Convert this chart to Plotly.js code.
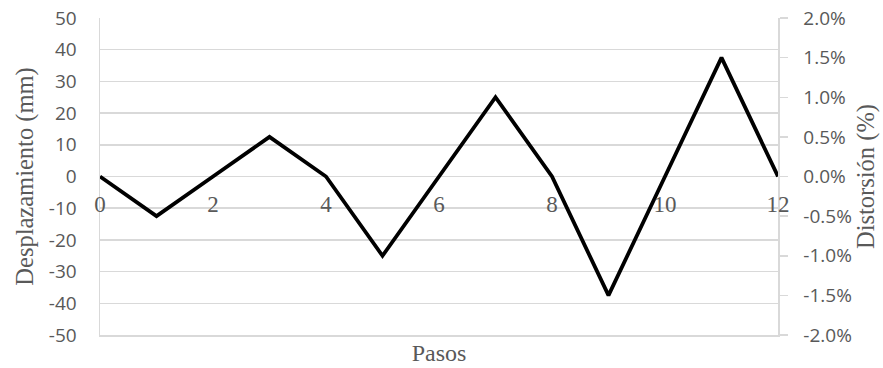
<!DOCTYPE html>
<html><head><meta charset="utf-8">
<script src="https://cdn.plot.ly/plotly-3.0.1.min.js"></script>
<style>html,body{margin:0;padding:0;background:#fff}#chart{width:883px;height:368px}</style>
</head><body><div id="chart"></div>
<script>
const pasos = [0,1,2,3,4,5,6,7,8,9,10,11,12];
const desplazamiento = [0,-12.5,0,12.5,0,-25,0,25,0,-37.5,0,37.5,0];
const distorsion = [0,-0.005,0,0.005,0,-0.01,0,0.01,0,-0.015,0,0.015,0];
const xTicks = [0,2,4,6,8,10,12];
const yTicks = [-50,-40,-30,-20,-10,0,10,20,30,40,50];
const yTickText = ['-50','-40','-30','-20','-10','0','10','20','30','40','50'];
const y2Ticks = [-0.02,-0.015,-0.01,-0.005,0,0.005,0.01,0.015,0.02];
const y2TickText = ['-2.0%','-1.5%','-1.0%','-0.5%','0.0%','0.5%','1.0%','1.5%','2.0%'];

const grey = '#595959';
const gridC = '#d9d9d9';
const serif = 'Liberation Serif';
const sans = 'Open Sans';

const traces = [
  {x: pasos, y: desplazamiento, xaxis:'x', yaxis:'y', mode:'lines',
   line:{color:'#000', width:3.8}, hoverinfo:'skip'},
  {x: pasos, y: distorsion, xaxis:'x2', yaxis:'y2', mode:'lines',
   line:{color:'rgba(0,0,0,0)', width:0}, hoverinfo:'skip'}
];

const layout = {
  width: 883, height: 368,
  margin: {l:100, r:105, t:18, b:33},
  paper_bgcolor:'#fff', plot_bgcolor:'#fff',
  showlegend:false,
  xaxis: {range:[0,12], showgrid:false, zeroline:false, showticklabels:false,
          showline:true, linecolor:gridC, linewidth:1.5, ticks:'', automargin:false,
          title:{text:'Pasos', font:{family:serif, size:24, color:grey}, standoff:8}},
  xaxis2: {range:[0,12], overlaying:'x', anchor:'free', position:0.5, side:'bottom',
           tickvals:xTicks, ticktext:xTicks.map(String), showgrid:false, zeroline:false,
           showline:false, ticks:'', ticklabelstandoff:11,
           tickfont:{family:serif, size:23, color:grey}},
  yaxis: {range:[-50,50], tickvals:yTicks, ticktext:yTickText, showgrid:true, gridcolor:gridC, gridwidth:1.5,
          zeroline:false, showline:true, linecolor:gridC, linewidth:1.5, ticks:'',
          ticklabelstandoff:18, tickfont:{family:sans, size:19, color:grey},
          title:{text:'Desplazamiento (mm)', font:{family:serif, size:24.5, color:grey}, standoff:8}},
  yaxis2: {range:[-0.02,0.02], tickvals:y2Ticks, ticktext:y2TickText, overlaying:'y', side:'right',
           anchor:'x', showgrid:false, zeroline:false, showline:true, linecolor:gridC, linewidth:1.5,
           ticks:'outside', ticklen:8, tickcolor:gridC, tickwidth:1.5, ticklabelstandoff:12,
           tickfont:{family:sans, size:19, color:grey},
           title:{text:'Distorsión (%)', font:{family:serif, size:24.5, color:grey}, standoff:0}}
};

Plotly.newPlot('chart', traces, layout, {displayModeBar:false, staticPlot:true});
</script></body></html>
